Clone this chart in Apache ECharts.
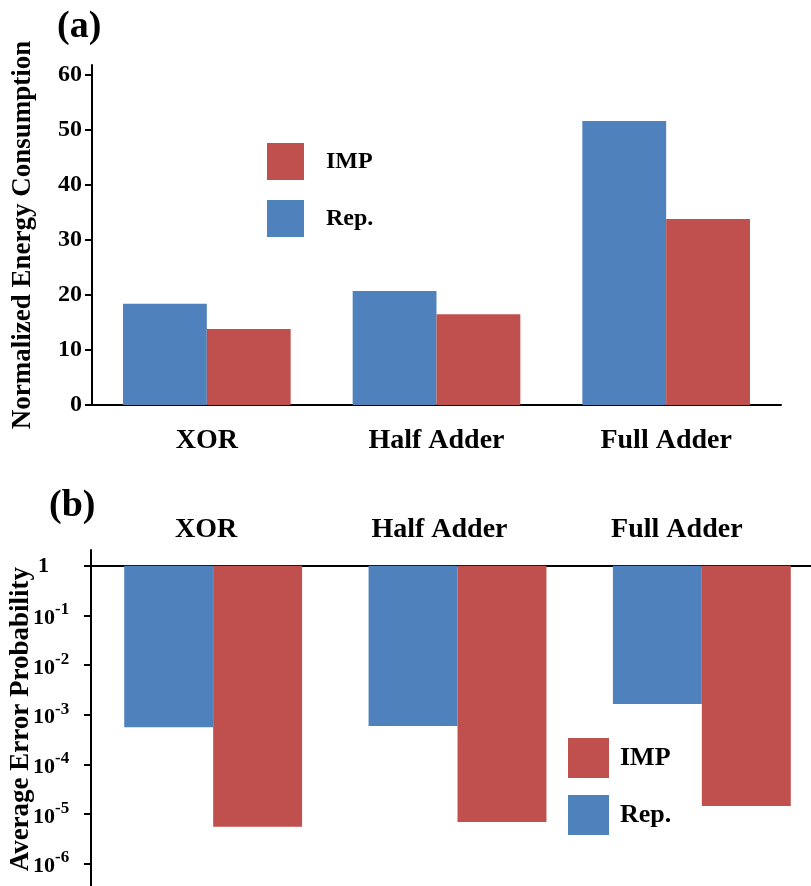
<!DOCTYPE html>
<html>
<head>
<meta charset="utf-8">
<script src="https://cdn.jsdelivr.net/npm/echarts@6/dist/echarts.min.js"></script>
<style>
  html, body { margin: 0; padding: 0; background: #fff; }
  #chart { width: 811px; height: 886px; }
</style>
</head>
<body>
<div id="chart"></div>
<script>
// Circuit categories shared by both panels
const circuits = ['XOR', 'Half Adder', 'Full Adder'];

// (a) normalized energy consumption
const energyRep = [18.4, 20.7, 51.6];
const energyImp = [13.8, 16.5, 33.8];
const energyTicks = [0, 10, 20, 30, 40, 50, 60];

// (b) average error probability
const errorRep = [5.6e-4, 5.9e-4, 1.65e-3];
const errorImp = [5.5e-6, 6.9e-6, 1.45e-5];
const errorDecades = [0, -1, -2, -3, -4, -5, -6];

const BLUE = '#4F81BD';
const RED = '#C0504D';
const FONT = '"Liberation Serif", "Times New Roman", serif';

const axisLineStyle = { show: true, lineStyle: { color: '#000', width: 2 } };
const tickStyle = { show: true, length: 7, lineStyle: { color: '#000', width: 2 } };
const catText = { fontFamily: FONT, fontSize: 28, fontWeight: 'bold', color: '#000' };

const chart = echarts.init(document.getElementById('chart'), null, { renderer: 'canvas' });

chart.setOption({
  animation: false,
  backgroundColor: '#fff',
  textStyle: { fontFamily: FONT, fontWeight: 'bold', color: '#000' },
  title: [
    { text: '(a)', left: 57, top: 8, padding: 0, textStyle: { fontFamily: FONT, fontSize: 38, fontWeight: 'bold', color: '#000' } },
    { text: '(b)', left: 49, top: 487, padding: 0, textStyle: { fontFamily: FONT, fontSize: 38, fontWeight: 'bold', color: '#000' } }
  ],
  legend: [
    {
      data: ['IMP', 'Rep.'], orient: 'vertical', left: 267, top: 143, padding: 0,
      icon: 'rect', itemWidth: 37, itemHeight: 37, itemGap: 20,
      textStyle: { fontFamily: FONT, fontSize: 24, fontWeight: 'bold', color: '#000', padding: [0, 0, 0, 17] }
    },
    {
      data: ['IMP', 'Rep.'], orient: 'vertical', left: 568, top: 738, padding: 0,
      icon: 'rect', itemWidth: 41, itemHeight: 40, itemGap: 17,
      textStyle: { fontFamily: FONT, fontSize: 26, fontWeight: 'bold', color: '#000', padding: [0, 0, 0, 6] }
    }
  ],
  grid: [
    { left: 92, top: 65, width: 689, height: 340, outerBoundsMode: 'none' },
    { left: 91, top: 550, width: 733, height: 338.3, outerBoundsMode: 'none' }
  ],
  xAxis: [
    {
      type: 'category', gridIndex: 0, data: circuits,
      axisLine: axisLineStyle, axisTick: { show: false },
      axisLabel: Object.assign({ margin: 22, interval: 0 }, catText)
    },
    {
      type: 'category', gridIndex: 1, data: circuits, position: 'top',
      axisLine: { show: true, onZero: true, lineStyle: { color: '#000', width: 2 } },
      axisTick: { show: false },
      axisLabel: Object.assign({
        margin: 6, interval: 0, hideOverlap: false,
        // panel (b) headings sit a little left of their bar pairs
        formatter: (v, i) => '{c' + i + '|' + v + '}',
        rich: {
          c0: Object.assign({ padding: [0, 14, 0, 0] }, catText),
          c1: Object.assign({ padding: [0, 36, 0, 0] }, catText),
          c2: Object.assign({ padding: [0, 50, 0, 0] }, catText)
        }
      }, catText)
    }
  ],
  yAxis: [
    {
      type: 'value', gridIndex: 0, min: 0, max: 61.8,
      name: 'Normalized Energy Consumption', nameLocation: 'middle', nameGap: 55, nameMoveOverlap: false,
      nameTextStyle: { fontFamily: FONT, fontSize: 27, fontWeight: 'bold', color: '#000' },
      axisLine: axisLineStyle, axisTick: Object.assign({ customValues: energyTicks }, tickStyle),
      splitLine: { show: false },
      axisLabel: { customValues: energyTicks, margin: 10, fontFamily: FONT, fontSize: 24, fontWeight: 'bold', color: '#000' }
    },
    {
      type: 'value', gridIndex: 1, min: -6.5, max: 0.32,
      name: 'Average Error Probability', nameLocation: 'middle', nameGap: 56, nameMoveOverlap: false,
      nameTextStyle: { fontFamily: FONT, fontSize: 27, fontWeight: 'bold', color: '#000' },
      axisLine: axisLineStyle, axisTick: Object.assign({ customValues: errorDecades }, tickStyle),
      splitLine: { show: false },
      axisLabel: {
        customValues: errorDecades, margin: 58, align: 'left',
        formatter: v => (Math.round(v) === 0 ? '{one|1}' : '{b|10}{s|' + Math.round(v) + '}'),
        rich: {
          one: { fontFamily: FONT, fontSize: 22, fontWeight: 'bold', color: '#000', padding: [0, 0, 0, 5] },
          b: { fontFamily: FONT, fontSize: 22, fontWeight: 'bold', color: '#000', lineHeight: 28, verticalAlign: 'bottom' },
          s: { fontFamily: FONT, fontSize: 17, fontWeight: 'bold', color: '#000', lineHeight: 17, verticalAlign: 'top' }
        }
      }
    }
  ],
  series: [
    { name: 'Rep.', type: 'bar', xAxisIndex: 0, yAxisIndex: 0, data: energyRep, barWidth: '36.5%', barGap: '0%', itemStyle: { color: BLUE } },
    { name: 'IMP', type: 'bar', xAxisIndex: 0, yAxisIndex: 0, data: energyImp, barWidth: '36.5%', barGap: '0%', itemStyle: { color: RED } },
    { name: 'Rep.', type: 'bar', xAxisIndex: 1, yAxisIndex: 1, data: errorRep.map(Math.log10), barWidth: '36.4%', barGap: '0%', itemStyle: { color: BLUE } },
    { name: 'IMP', type: 'bar', xAxisIndex: 1, yAxisIndex: 1, data: errorImp.map(Math.log10), barWidth: '36.4%', barGap: '0%', itemStyle: { color: RED } }
  ]
});
</script>
</body>
</html>
